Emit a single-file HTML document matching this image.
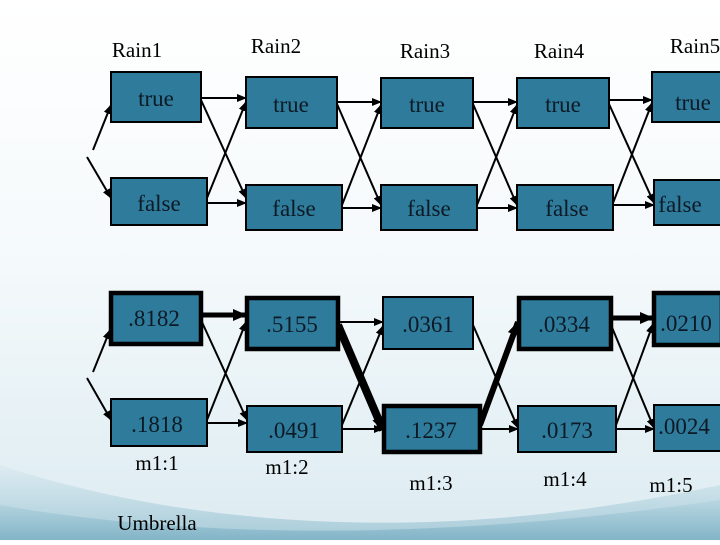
<!DOCTYPE html>
<html><head><meta charset="utf-8"><style>
html,body{margin:0;padding:0;}
body{width:720px;height:540px;overflow:hidden;font-family:"Liberation Serif",serif;}
text{font-family:"Liberation Serif",serif !important;}
</style></head><body>
<svg width="720" height="540" viewBox="0 0 720 540" xmlns="http://www.w3.org/2000/svg" font-family="Liberation Serif, serif">
<defs>
<linearGradient id="bg" x1="0" y1="0" x2="0" y2="1">
<stop offset="0" stop-color="#ffffff"/><stop offset="0.5" stop-color="#f4f9fb"/><stop offset="1" stop-color="#dcebf1"/>
</linearGradient>
<linearGradient id="w1" x1="0" y1="0" x2="0" y2="1">
<stop offset="0" stop-color="#dbeaf0"/><stop offset="1" stop-color="#8fbdce"/>
</linearGradient>
<linearGradient id="w2" x1="0" y1="0" x2="0" y2="1">
<stop offset="0" stop-color="#b4d4e0"/><stop offset="1" stop-color="#74abc0"/>
</linearGradient>
<marker id="a" markerUnits="userSpaceOnUse" markerWidth="10" markerHeight="8" refX="9" refY="4" orient="auto"><path d="M0,0 L10,4 L0,8 z" fill="#000"/></marker>
<marker id="b" markerUnits="userSpaceOnUse" markerWidth="14" markerHeight="12" refX="13" refY="6" orient="auto"><path d="M0,0 L14,6 L0,12 z" fill="#000"/></marker>
</defs>
<rect width="720" height="540" fill="url(#bg)"/>
<path d="M0,465 C150,515 400,555 720,485 L720,540 L0,540 z" fill="url(#w1)" opacity="0.7"/>
<path d="M0,505 C200,540 450,540 720,500 L720,540 L0,540 z" fill="url(#w2)" opacity="0.7"/>

<g stroke="#000" fill="none" stroke-width="2" marker-end="url(#a)">
<line x1="93" y1="150" x2="111" y2="105"/>
<line x1="87" y1="157" x2="111" y2="198"/>
<line x1="201" y1="98" x2="246" y2="98"/>
<line x1="207" y1="203" x2="246" y2="203"/>
<line x1="201" y1="100" x2="246" y2="198"/>
<line x1="207" y1="198" x2="246" y2="102"/>
<line x1="337" y1="102" x2="381" y2="102"/>
<line x1="342" y1="208" x2="381" y2="208"/>
<line x1="337" y1="104" x2="381" y2="205"/>
<line x1="342" y1="205" x2="381" y2="105"/>
<line x1="473" y1="102" x2="517" y2="102"/>
<line x1="477" y1="208" x2="517" y2="208"/>
<line x1="473" y1="104" x2="517" y2="205"/>
<line x1="477" y1="205" x2="517" y2="105"/>
<line x1="609" y1="100" x2="652" y2="100"/>
<line x1="613" y1="205" x2="654" y2="205"/>
<line x1="609" y1="104" x2="654" y2="203"/>
<line x1="613" y1="203" x2="652" y2="103"/>
<line x1="93" y1="372" x2="110" y2="330"/>
<line x1="87" y1="378" x2="111" y2="420"/>
<line x1="207" y1="423" x2="247" y2="423"/>
<line x1="201" y1="320" x2="247" y2="420"/>
<line x1="207" y1="420" x2="246" y2="322"/>
<line x1="338" y1="322" x2="383" y2="322"/>
<line x1="342" y1="429" x2="383" y2="429"/>
<line x1="342" y1="425" x2="383" y2="326"/>
<line x1="480" y1="429" x2="518" y2="429"/>
<line x1="473" y1="325" x2="518" y2="428"/>
<line x1="616" y1="429" x2="654" y2="429"/>
<line x1="611" y1="325" x2="654" y2="428"/>
<line x1="616" y1="425" x2="653" y2="324"/>
</g>
<g stroke="#000" fill="none" marker-end="url(#b)">
<line x1="201" y1="315" x2="246" y2="315" stroke-width="5"/>
<line x1="338" y1="325" x2="383" y2="430" stroke-width="8"/>
<line x1="480" y1="425" x2="518" y2="322" stroke-width="6"/>
<line x1="611" y1="318" x2="653" y2="318" stroke-width="5"/>
</g>

<g fill="#2e7b9b" stroke="#000" stroke-width="2">
<rect x="111" y="72" width="90" height="50"/>
<rect x="111" y="178" width="96" height="47"/>
<rect x="246" y="77" width="91" height="51"/>
<rect x="246" y="185" width="96" height="45"/>
<rect x="381" y="78" width="92" height="50"/>
<rect x="381" y="185" width="96" height="45"/>
<rect x="517" y="78" width="92" height="50"/>
<rect x="517" y="185" width="96" height="45"/>
<rect x="652" y="72" width="70" height="50"/>
<rect x="654" y="180" width="68" height="45"/>
<rect x="111" y="399" width="96" height="47"/>
<rect x="247" y="406" width="95" height="46"/>
<rect x="518" y="406" width="98" height="46"/>
<rect x="654" y="405" width="68" height="46"/>
<rect x="383" y="297" width="90" height="52"/>
</g>
<g fill="#2e7b9b" stroke="#000" stroke-width="4.5">
<rect x="111" y="293" width="90" height="51"/>
<rect x="247" y="298" width="91" height="51"/>
<rect x="384" y="406" width="96" height="46"/>
<rect x="519" y="298" width="92" height="51"/>
<rect x="654" y="293" width="68" height="52"/>
</g>

<g font-size="21" fill="#000" text-anchor="middle" font-family="Liberation Serif, serif">
<text x="137" y="57">Rain1</text>
<text x="276" y="53">Rain2</text>
<text x="425" y="58">Rain3</text>
<text x="559" y="58">Rain4</text>
<text x="695" y="53">Rain5</text>
<text x="157" y="470">m1:1</text>
<text x="287" y="474">m1:2</text>
<text x="431" y="490">m1:3</text>
<text x="565" y="486">m1:4</text>
<text x="671" y="492">m1:5</text>
<text x="157" y="530">Umbrella</text>
</g>
<g font-size="23" fill="#0d1a26" text-anchor="middle" font-family="Liberation Serif, serif">
<text x="156" y="106">true</text>
<text x="291" y="112">true</text>
<text x="427" y="112">true</text>
<text x="563" y="112">true</text>
<text x="693" y="110">true</text>
<text x="159" y="211">false</text>
<text x="294" y="216">false</text>
<text x="429" y="216">false</text>
<text x="567" y="216">false</text>
<text x="680" y="212">false</text>
<text x="154" y="326">.8182</text>
<text x="292" y="332">.5155</text>
<text x="428" y="332">.0361</text>
<text x="564" y="332">.0334</text>
<text x="686" y="331">.0210</text>
<text x="157" y="432">.1818</text>
<text x="294" y="438">.0491</text>
<text x="431" y="438">.1237</text>
<text x="567" y="438">.0173</text>
<text x="684" y="434">.0024</text>
</g>
</svg>
</body></html>
